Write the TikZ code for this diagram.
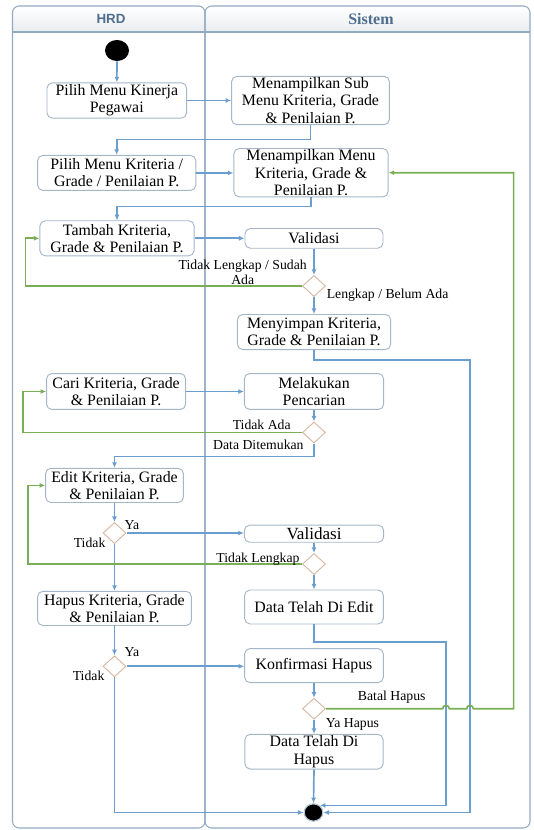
\documentclass[tikz,border=0pt]{standalone}
\usepackage{fontspec}
\setmainfont{Liberation Serif}
\newfontfamily\hsans{Liberation Sans}
\usetikzlibrary{shapes.geometric,arrows.meta,calc}
\definecolor{flowc}{HTML}{6A9ECF}
\definecolor{greenc}{HTML}{7AAE55}
\definecolor{boxc}{HTML}{A4B6C8}
\definecolor{diac}{HTML}{D6B8A2}
\definecolor{lanec}{HTML}{93ABC1}
\definecolor{headc}{HTML}{4F6E8E}
\definecolor{headfill}{HTML}{E9ECEF}
\begin{document}
\begin{tikzpicture}[x=0.75pt,y=-0.75pt,
  act/.style={draw=boxc, line width=0.7pt, rounded corners=4pt, fill=white, align=center, inner sep=0pt, font=\fontsize{11.9}{12.9}\selectfont},
  dec/.style={diamond, draw=diac, line width=0.7pt, fill=white, minimum width=17.3pt, minimum height=15.8pt, inner sep=0pt, aspect=1.1},
  flow/.style={draw=flowc, line width=1.25pt, -{Latex[length=4.2pt,width=3.8pt]}},
  gflow/.style={draw=greenc, line width=1.25pt, -{Latex[length=4.2pt,width=3.8pt]}},
  lbl/.style={font=\fontsize{10.3}{10.9}\selectfont, inner sep=0pt, align=center},
  lanebox/.style={draw=lanec, line width=0.8pt, rounded corners=5pt},
  headtxt/.style={text=headc, inner sep=0pt}
]
\useasboundingbox (0,0) rectangle (534,830);

% swimlanes
\shade[top color=white, bottom color=headfill] (13,6.5) rectangle (529.5,32);
\draw[lanebox] (12.5,6) rectangle (205,828);
\draw[lanebox] (205,6) rectangle (530,828);
\draw[draw=lanec, line width=0.8pt] (12.5,32) -- (530,32);
\node[headtxt, font=\hsans\bfseries\fontsize{10}{12}\selectfont] (hhrd) at (111,19.4) {HRD};
\node[headtxt, font=\bfseries\fontsize{12}{14}\selectfont] (hsis) at (371,19.4) {Sistem};

% nodes
\node[ellipse, fill=black, minimum width=18pt, minimum height=15.8pt, inner sep=0pt] (start) at (117,50.5) {};
\node[act, minimum width=104.7pt, minimum height=26.5pt] (n1) at (116.8,100.5) {Pilih Menu Kinerja\\Pegawai};
\node[act, minimum width=118.3pt, minimum height=36.3pt] (n2) at (310.5,100.5) {Menampilkan Sub\\Menu Kriteria, Grade\\\& Penilaian P.};
\node[act, minimum width=118.7pt, minimum height=26.3pt] (n3) at (116.7,172.9) {Pilih Menu Kriteria /\\Grade / Penilaian P.};
\node[act, minimum width=115.7pt, minimum height=36.3pt] (n4) at (311,172.7) {Menampilkan Menu\\Kriteria, Grade \&\\Penilaian P.};
\node[act, minimum width=115.7pt, minimum height=26.3pt] (n5) at (117,238.3) {Tambah Kriteria,\\Grade \& Penilaian P.};
\node[act, minimum width=103.5pt, minimum height=14.8pt] (n6) at (314,238.4) {Validasi};
\node[dec] (d1) at (314,286) {};
\node[act, minimum width=115pt, minimum height=26.3pt] (n7) at (314,332) {Menyimpan Kriteria,\\Grade \& Penilaian P.};
\node[act, minimum width=104.3pt, minimum height=26.9pt] (n8) at (116.1,391.5) {Cari Kriteria, Grade\\\& Penilaian P.};
\node[act, minimum width=104.5pt, minimum height=26.9pt] (n9) at (314,391.5) {Melakukan\\Pencarian};
\node[dec] (d2) at (314,432.5) {};
\node[act, minimum width=103.4pt, minimum height=25.6pt] (n10) at (114.5,485.4) {Edit Kriteria, Grade\\\& Penilaian P.};
\node[dec] (d3) at (114.5,533) {};
\node[act, minimum width=104.5pt, minimum height=12.8pt, font=\fontsize{12.8}{13}\selectfont] (n11) at (314,533.7) {Validasi};
\node[dec] (d4) at (314,564) {};
\node[act, minimum width=115.4pt, minimum height=25.6pt] (n12) at (114.5,608.4) {Hapus Kriteria, Grade\\\& Penilaian P.};
\node[act, minimum width=104pt, minimum height=25.5pt] (n13) at (314,607) {Data Telah Di Edit};
\node[dec] (d5) at (114.5,666.3) {};
\node[act, minimum width=104pt, minimum height=25.5pt] (n14) at (314,665.6) {Konfirmasi Hapus};
\node[dec] (d6) at (314,708.7) {};
\node[act, minimum width=103.7pt, minimum height=26pt] (n15) at (314,751.7) {Data Telah Di\\Hapus};
\node[ellipse, fill=black, draw=lanec!70, line width=0.9pt, minimum width=14pt, minimum height=13pt, inner sep=0pt] (final) at (313.5,812.5) {};

% helper coordinates
\coordinate (j1) at (200,139.6);
\coordinate (j2) at (200,206.4);
\coordinate (j3) at (200,456.4);
\coordinate (k1) at (470,359.7);
\coordinate (k2) at (446,641.7);
\coordinate (g1) at (25.5,0);
\coordinate (g2) at (23.2,0);
\coordinate (g3) at (27.9,0);
\coordinate (g4) at (513.6,0);

% blue connectors
\draw[flow] (start) -- (n1);
\draw[flow] (n1.east) -- (n2.west);
\draw[flow] (n2.south) |- (j1) -| (n3.north);
\draw[flow] (n3.east) -- (n4.west |- n3.east);
\draw[flow] (n4.south) |- (j2) -| (n5.north);
\draw[flow] (n5.east) -- (n6.west |- n5.east);
\draw[flow] (n6.south) -- (d1.north);
\draw[flow] (d1.south) -- (n7.north);
\draw[flow] (n7.south) |- (k1) |- (final.east);
\draw[flow] (n8.east) -- (n9.west);
\draw[flow] (n9.south) -- (d2.north);
\draw[flow] (d2.south) |- (j3) -| (n10.north);
\draw[flow] (n10.south) -- (d3.north);
\draw[flow] (d3.east) -- (n11.west |- d3.east);
\draw[flow] (n11.south) -- (d4.north);
\draw[flow] (d3.south) -- (n12.north);
\draw[flow] (d4.south) -- (n13.north);
\draw[flow] (n13.south) |- (k2) |- (final.48);
\draw[flow] (n12.south) -- (d5.north);
\draw[flow] (d5.east) -- (n14.west |- d5.east);
\draw[flow] (n14.south) -- (d6.north);
\draw[flow] (d6.south) -- (n15.north);
\draw[flow] (n15.south) -- (final.north);
\draw[flow] (d5.south) |- (final.west);

% green connectors
\draw[gflow] (d1.west) -- (g1 |- d1.west) |- (n5.west);
\draw[gflow] (d2.west) -- (g2 |- d2.west) |- (n8.west);
\draw[gflow] (d4.west) -- (g3 |- d4.west) |- (n10.west);
\draw[gflow] (d6.east) -- ($(k2 |- d6.east)+(-2.5pt,0)$) arc[start angle=180, end angle=0, radius=2.5pt]
   -- ($(k1 |- d6.east)+(-2.5pt,0)$) arc[start angle=180, end angle=0, radius=2.5pt]
   -- (g4 |- d6.east) |- (n4.east);

% labels
\node[lbl] (l1) at (242.7,272.4) {Tidak Lengkap / Sudah\\Ada};
\node[lbl, anchor=west] (l2) at (326.5,295) {Lengkap / Belum Ada};
\node[lbl] (l3) at (261.7,424.7) {Tidak Ada};
\node[lbl] (l4) at (258.4,445) {Data Ditemukan};
\node[lbl] (l5) at (132,525.2) {Ya};
\node[lbl] (l6) at (89.6,542.9) {Tidak};
\node[lbl] (l7) at (258,559.3) {Tidak Lengkap};
\node[lbl] (l8) at (132,652) {Ya};
\node[lbl] (l9) at (88.6,675.8) {Tidak};
\node[lbl] (l10) at (391.7,696.8) {Batal Hapus};
\node[lbl] (l11) at (352.5,724) {Ya Hapus};
\end{tikzpicture}
\end{document}
